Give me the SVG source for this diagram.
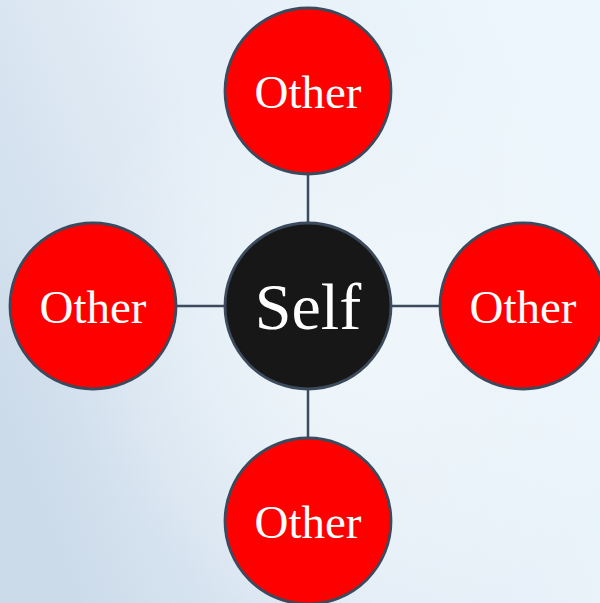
<svg xmlns="http://www.w3.org/2000/svg" width="600" height="603" viewBox="0 0 600 603">
<defs>
<linearGradient id="bg" x1="0" y1="0.7" x2="1" y2="0.3">
<stop offset="0" stop-color="#ccdbea"/>
<stop offset="0.45" stop-color="#e5eef7"/>
<stop offset="1" stop-color="#ecf6fc"/>
</linearGradient>
<radialGradient id="glow" cx="0.6" cy="0.55" r="0.5">
<stop offset="0" stop-color="#f3f9fc" stop-opacity="0.7"/>
<stop offset="1" stop-color="#f3f9fc" stop-opacity="0"/>
</radialGradient>
<style>
.other{fill:#ff0000;stroke:#3b4a5c;stroke-width:2.8}
.self{fill:#171717;stroke:#3b4a5c;stroke-width:2.8}
.lbl{font-family:"Liberation Serif","Times New Roman",serif;fill:#ffffff;text-anchor:middle}
.o{font-size:47px}
.s{font-size:66px}
.conn line{stroke:#3b4a5c;stroke-width:2.5}
</style>
</defs>
<rect width="600" height="603" fill="url(#bg)"/>
<rect width="600" height="603" fill="url(#glow)"/>
<g class="conn">
<line x1="308" y1="174" x2="308" y2="223"/>
<line x1="308" y1="389" x2="308" y2="438"/>
<line x1="175" y1="306" x2="225" y2="306"/>
<line x1="391" y1="306" x2="440" y2="306"/>
</g>
<g id="self"><circle class="self" cx="308" cy="306" r="83"/><text class="lbl s" x="308" y="329">Self</text></g>
<g id="top"><circle class="other" cx="308" cy="91" r="83"/><text class="lbl o" x="308" y="108">Other</text></g>
<g id="left"><circle class="other" cx="93" cy="306" r="83"/><text class="lbl o" x="93" y="323">Other</text></g>
<g id="right"><circle class="other" cx="523" cy="306" r="83"/><text class="lbl o" x="523" y="323">Other</text></g>
<g id="bottom"><circle class="other" cx="308" cy="521" r="83"/><text class="lbl o" x="308" y="538">Other</text></g>
</svg>
